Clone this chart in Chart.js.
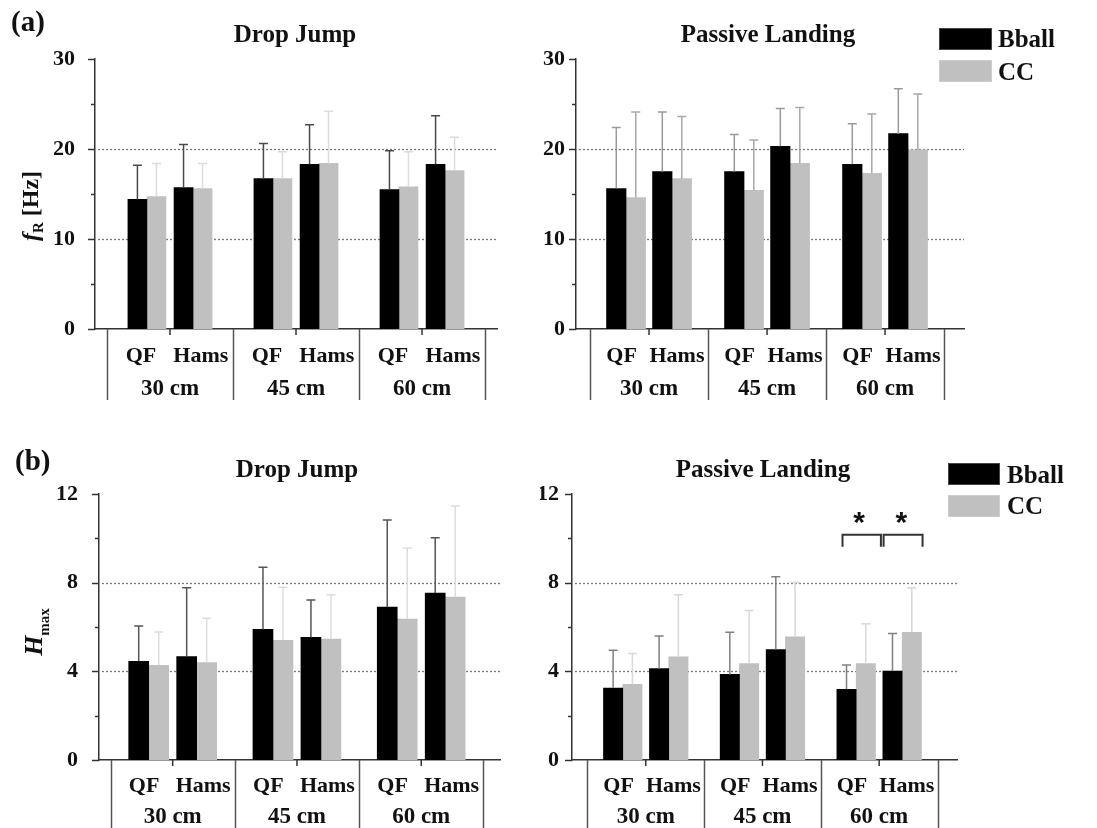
<!DOCTYPE html>
<html>
<head>
<meta charset="utf-8">
<script src="https://cdn.jsdelivr.net/npm/chart.js@4"></script>
<style>
  body { margin: 0; background: #fff; }
  #wrap { position: relative; width: 1097px; height: 828px; }
  canvas { position: absolute; }
</style>
</head>
<body>
<div id="wrap">
  <canvas id="frDJ" width="540" height="410" style="left:0;top:0"></canvas>
  <canvas id="frPL" width="557" height="410" style="left:540px;top:0"></canvas>
  <canvas id="hDJ" width="540" height="418" style="left:0;top:410px"></canvas>
  <canvas id="hPL" width="557" height="418" style="left:540px;top:410px"></canvas>
</div>
<script>
// drop heights and muscles; bars go 30QF, 30Hams, 45QF, 45Hams, 60QF, 60Hams
const heights = ['30 cm', '45 cm', '60 cm'];
const muscles = ['QF', 'Hams'];
const seriesNames = ['Bball', 'CC'];

// (a) fR [Hz]
const frTicks = [0, 10, 20, 30];
const frDJ_bball = [14.4, 15.7, 16.7, 18.3, 15.5, 18.3];
const frDJ_bballSD = [3.8, 4.8, 3.9, 4.4, 4.3, 5.4];
const frDJ_cc = [14.7, 15.6, 16.7, 18.4, 15.8, 17.6];
const frDJ_ccSD = [3.7, 2.8, 3.0, 5.8, 3.9, 3.7];
const frPL_bball = [15.6, 17.5, 17.5, 20.3, 18.3, 21.7];
const frPL_bballSD = [6.8, 6.6, 4.1, 4.2, 4.5, 5.0];
const frPL_cc = [14.6, 16.7, 15.4, 18.4, 17.3, 19.9];
const frPL_ccSD = [9.5, 6.9, 5.6, 6.2, 6.6, 6.2];

// (b) Hmax
const hTicks = [0, 4, 8, 12];
const hDJ_bball = [4.45, 4.66, 5.89, 5.53, 6.90, 7.53];
const hDJ_bballSD = [1.59, 3.11, 2.81, 1.69, 3.93, 2.50];
const hDJ_cc = [4.27, 4.40, 5.40, 5.46, 6.36, 7.35];
const hDJ_ccSD = [1.50, 2.00, 2.39, 2.00, 3.20, 4.11];
const hPL_bball = [3.25, 4.12, 3.86, 4.98, 3.19, 4.01];
const hPL_bballSD = [1.70, 1.47, 1.90, 3.29, 1.10, 1.70];
const hPL_cc = [3.41, 4.65, 4.35, 5.56, 4.35, 5.76];
const hPL_ccSD = [1.40, 2.81, 2.40, 2.45, 1.80, 2.01];

const serif = '"Liberation Serif", "Times New Roman", serif';
const textColor = '#111';
const axisColor = '#333';

function points(values, off) {
  return values.map((v, i) => ({ x: Math.floor(i / 2) + (i % 2 === 0 ? -off : off), y: v }));
}

function decorPlugin(p) {
  return {
    id: 'decor',
    beforeDatasetsDraw(chart) {
      // dotted grid lines at the inner labelled values
      const ctx = chart.ctx;
      const ys = chart.scales.y;
      const area = chart.chartArea;
      ctx.save();
      ctx.strokeStyle = '#777';
      ctx.lineWidth = 1.3;
      ctx.setLineDash([2, 2]);
      p.yTicks.filter(v => v > 0 && v < p.yMax).forEach(v => {
        const py = Math.round(ys.getPixelForValue(v)) + 0.5;
        ctx.beginPath();
        ctx.moveTo(area.left + 3, py);
        ctx.lineTo(area.right, py);
        ctx.stroke();
      });
      ctx.restore();
    },
    afterDatasetsDraw(chart) {
      const ctx = chart.ctx;
      const ys = chart.scales.y;
      // error bars (upper only)
      chart.data.datasets.forEach((ds, di) => {
        const meta = chart.getDatasetMeta(di);
        ctx.save();
        ctx.strokeStyle = ds.errColor;
        ctx.lineWidth = 1.5;
        meta.data.forEach((bar, i) => {
          const top = ys.getPixelForValue(ds.data[i].y + ds.sd[i]);
          ctx.beginPath();
          ctx.moveTo(bar.x, bar.y);
          ctx.lineTo(bar.x, top);
          ctx.moveTo(bar.x - 4.5, top);
          ctx.lineTo(bar.x + 4.5, top);
          ctx.stroke();
        });
        ctx.restore();
      });
    },
    afterDraw(chart) {
      const ctx = chart.ctx;
      const xs = chart.scales.x;
      const ys = chart.scales.y;
      const area = chart.chartArea;
      ctx.save();
      ctx.strokeStyle = axisColor;
      ctx.lineWidth = 1.5;

      // y tick marks, long at labelled values
      for (let v = 0; v <= p.yMax + 1e-9; v += p.yMinor) {
        const py = Math.round(ys.getPixelForValue(v)) + 0.5;
        const len = p.yTicks.includes(v) ? 7 : 4;
        ctx.beginPath();
        ctx.moveTo(area.left - len, py);
        ctx.lineTo(area.left, py);
        ctx.stroke();
      }

      // x ticks, group separators and two rows of labels
      ctx.fillStyle = textColor;
      ctx.textAlign = 'center';
      ctx.textBaseline = 'alphabetic';
      heights.forEach((h, g) => {
        const cx = xs.getPixelForValue(g);
        ctx.beginPath();
        ctx.moveTo(cx, area.bottom);
        ctx.lineTo(cx, area.bottom + 6);
        ctx.stroke();
        ctx.font = 'bold 22px ' + serif;
        ctx.fillText(muscles[0], xs.getPixelForValue(g - p.lblOff[0]), p.row1);
        ctx.fillText(muscles[1], xs.getPixelForValue(g + p.lblOff[1]), p.row1);
        ctx.font = 'bold 23px ' + serif;
        ctx.fillText(h, cx, p.row2);
      });
      ctx.strokeStyle = '#555';
      for (let s = -0.5; s <= heights.length - 0.5; s += 1) {
        const sx = Math.round(xs.getPixelForValue(s)) + 0.5;
        ctx.beginPath();
        ctx.moveTo(sx, area.bottom);
        ctx.lineTo(sx, p.sepEnd);
        ctx.stroke();
      }

      // panel title
      ctx.font = 'bold 25px ' + serif;
      ctx.fillText(p.title, p.titleX, p.titleY);

      // panel letter
      if (p.letter) {
        ctx.textAlign = 'left';
        ctx.font = 'bold 29px ' + serif;
        ctx.fillText(p.letter, p.letterX, p.letterY);
      }

      // rotated y title with subscript
      if (p.yTitle) {
        const parts = p.yTitle;
        ctx.save();
        ctx.translate(p.yTitleX, p.yTitleY);
        ctx.rotate(-Math.PI / 2);
        ctx.textAlign = 'left';
        let total = 0;
        parts.forEach(pt => { ctx.font = pt.font; total += ctx.measureText(pt.text).width; });
        let x = -total / 2;
        parts.forEach(pt => {
          ctx.font = pt.font;
          ctx.fillText(pt.text, x, pt.dy || 0);
          x += ctx.measureText(pt.text).width;
        });
        ctx.restore();
      }

      // legend
      if (p.legend) {
        const L = p.legend;
        ctx.textAlign = 'left';
        ctx.font = 'bold 25px ' + serif;
        chart.data.datasets.forEach((ds, i) => {
          ctx.fillStyle = ds.backgroundColor;
          ctx.fillRect(L.x, L.y[i], L.w, L.h);
          ctx.strokeStyle = i === 0 ? '#444' : '#ccc';
          ctx.lineWidth = 1;
          ctx.strokeRect(L.x + 0.5, L.y[i] + 0.5, L.w - 1, L.h - 1);
          ctx.fillStyle = textColor;
          ctx.fillText(ds.label, L.tx, L.base[i]);
        });
      }

      // significance brackets
      if (p.brackets) {
        ctx.strokeStyle = axisColor;
        ctx.lineWidth = 2;
        p.brackets.forEach(b => {
          const x1 = xs.getPixelForValue(b.from);
          const x2 = xs.getPixelForValue(b.to);
          const yt = ys.getPixelForValue(b.top);
          const yb = ys.getPixelForValue(b.leg);
          ctx.beginPath();
          ctx.moveTo(x1, yb);
          ctx.lineTo(x1, yt);
          ctx.lineTo(x2, yt);
          ctx.lineTo(x2, yb);
          ctx.stroke();
          ctx.fillStyle = '#111';
          ctx.font = 'bold 30px "Liberation Sans", sans-serif';
          ctx.textAlign = 'center';
          const m = ctx.measureText('*');
          const cy = ys.getPixelForValue(b.star);
          ctx.fillText('*', xs.getPixelForValue(b.starX), cy + (m.actualBoundingBoxAscent - m.actualBoundingBoxDescent) / 2);
        });
      }
      ctx.restore();
    }
  };
}

function makePanel(id, p) {
  const ctx = document.getElementById(id).getContext('2d');
  return new Chart(ctx, {
    type: 'bar',
    data: {
      datasets: [{
        label: seriesNames[0],
        data: points(p.bball, p.barOff),
        sd: p.bballSD,
        errColor: p.errColors[0],
        backgroundColor: '#000000',
        borderWidth: 0,
        barThickness: p.barW
      }, {
        label: seriesNames[1],
        data: points(p.cc, p.barOff),
        sd: p.ccSD,
        errColor: p.errColors[1],
        backgroundColor: '#c0c0c0',
        borderWidth: 0,
        barThickness: p.barW
      }]
    },
    options: {
      responsive: false,
      animation: false,
      layout: { padding: p.padding },
      plugins: { legend: { display: false }, tooltip: { enabled: false }, title: { display: false } },
      scales: {
        x: {
          type: 'linear',
          offset: false,
          min: p.xMin,
          max: p.xMax,
          afterFit: s => { s.height = p.xH; },
          grid: { display: false },
          ticks: { display: false },
          border: { display: true, color: axisColor, width: 1.5 }
        },
        y: {
          min: 0,
          max: p.yMax,
          afterFit: s => { s.width = p.yW; },
          afterBuildTicks: s => { s.ticks = p.yTicks.map(v => ({ value: v })); },
          grid: { display: false },
          border: { display: true, color: axisColor, width: 1.5 },
          ticks: {
            padding: p.tickPad,
            color: textColor,
            font: { family: serif, size: 22, weight: 'bold' }
          }
        }
      }
    },
    plugins: [decorPlugin(p)]
  });
}

makePanel('frDJ', {
  bball: frDJ_bball, bballSD: frDJ_bballSD, cc: frDJ_cc, ccSD: frDJ_ccSD,
  errColors: ['#4a4a4a', '#dcdcdc'],
  yMax: 30, yMinor: 5, yTicks: frTicks,
  xMin: -0.595, xMax: 2.595, barOff: 0.183, barW: 19, lblOff: [0.23, 0.245],
  padding: { top: 59, right: 43, bottom: 0, left: 0 }, yW: 95, xH: 81, tickPad: 12,
  row1: 362, row2: 395, sepEnd: 400,
  title: 'Drop Jump', titleX: 295, titleY: 42,
  letter: '(a)', letterX: 11, letterY: 31,
  yTitle: [
    { text: 'f', font: 'italic bold 24px ' + serif },
    { text: 'R', font: 'bold 15px ' + serif, dy: 5 },
    { text: ' [Hz]', font: 'bold 24px ' + serif }
  ],
  yTitleX: 38, yTitleY: 206
});

makePanel('frPL', {
  bball: frPL_bball, bballSD: frPL_bballSD, cc: frPL_cc, ccSD: frPL_ccSD,
  errColors: ['#9a9a9a', '#a8a8a8'],
  yMax: 30, yMinor: 5, yTicks: frTicks,
  xMin: -0.619, xMax: 2.669, barOff: 0.195, barW: 19.5, lblOff: [0.233, 0.237],
  padding: { top: 59, right: 133, bottom: 0, left: 0 }, yW: 36, xH: 81, tickPad: 3,
  row1: 362, row2: 395, sepEnd: 400,
  title: 'Passive Landing', titleX: 228, titleY: 42,
  legend: { x: 399, w: 53, h: 22, y: [28, 60], tx: 458, base: [47, 80] }
});

makePanel('hDJ', {
  bball: hDJ_bball, bballSD: hDJ_bballSD, cc: hDJ_cc, ccSD: hDJ_ccSD,
  errColors: ['#555555', '#dddddd'],
  yMax: 12, yMinor: 2, yTicks: hTicks,
  xMin: -0.593, xMax: 2.634, barOff: 0.193, barW: 20, lblOff: [0.23, 0.245],
  padding: { top: 84, right: 40, bottom: 0, left: 0 }, yW: 99, xH: 68, tickPad: 13,
  row1: 382, row2: 413, sepEnd: 418,
  title: 'Drop Jump', titleX: 297, titleY: 67,
  letter: '(b)', letterX: 15, letterY: 60,
  yTitle: [
    { text: 'H', font: 'italic bold 26px ' + serif },
    { text: 'max', font: 'bold 15px ' + serif, dy: 7 }
  ],
  yTitleX: 42, yTitleY: 222
});

makePanel('hPL', {
  bball: hPL_bball, bballSD: hPL_bballSD, cc: hPL_cc, ccSD: hPL_ccSD,
  errColors: ['#808080', '#d8d8d8'],
  yMax: 12, yMinor: 2, yTicks: hTicks,
  xMin: -0.632, xMax: 2.667, barOff: 0.197, barW: 19.3, lblOff: [0.233, 0.237],
  padding: { top: 84, right: 140, bottom: 0, left: 0 }, yW: 32, xH: 68, tickPad: 5,
  row1: 382, row2: 413, sepEnd: 418,
  title: 'Passive Landing', titleX: 223, titleY: 67,
  legend: { x: 408, w: 52, h: 22, y: [53, 85], tx: 467, base: [73, 104] },
  brackets: [
    { from: 1.686, to: 2.015, top: 10.16, leg: 9.62, star: 10.9, starX: 1.829 },
    { from: 2.038, to: 2.372, top: 10.16, leg: 9.62, star: 10.9, starX: 2.189 }
  ]
});
</script>
</body>
</html>
